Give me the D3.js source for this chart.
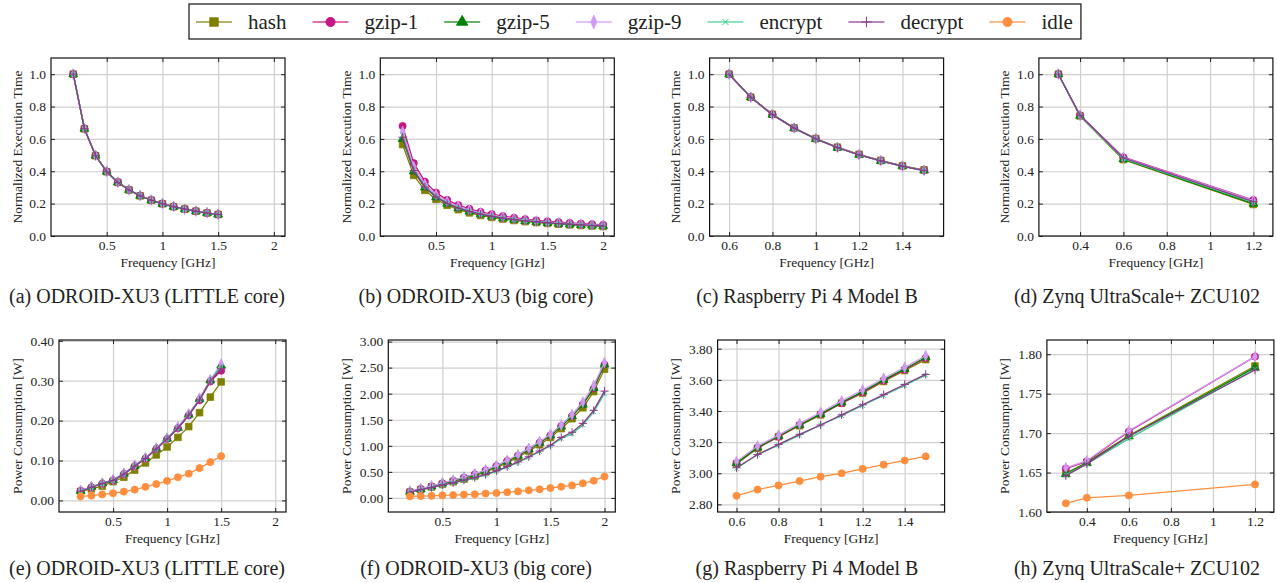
<!DOCTYPE html>
<html>
<head>
<meta charset="utf-8">
<script src="https://cdn.jsdelivr.net/npm/d3@7"></script>
<style>
body{margin:0;background:#fff;}
text{font-family:"Liberation Serif","Times New Roman",serif;fill:#222;}
</style>
</head>
<body>
<svg id="chart" width="1277" height="583"></svg>
<script>
// workloads, legend order
const workloads = ['hash', 'gzip-1', 'gzip-5', 'gzip-9', 'encrypt', 'decrypt', 'idle'];
const colors = ['#808000', '#c71585', '#008000', '#d09af2', '#3ecf8e', '#8b3a8b', '#ff8f3f'];

// frequencies [GHz]
const freqLittle = [0.2, 0.3, 0.4, 0.5, 0.6, 0.7, 0.8, 0.9, 1.0, 1.1, 1.2, 1.3, 1.4, 1.5];
const freqBig = [0.2, 0.3, 0.4, 0.5, 0.6, 0.7, 0.8, 0.9, 1.0, 1.1, 1.2, 1.3, 1.4, 1.5, 1.6, 1.7, 1.8, 1.9, 2.0];
const freqPi = [0.6, 0.7, 0.8, 0.9, 1.0, 1.1, 1.2, 1.3, 1.4, 1.5];
const freqZynq = [0.3, 0.4, 0.6, 1.2];

// normalized execution time, one row per workload (no idle)
const timeLittle = [
  [1.0, 0.662, 0.496, 0.397, 0.331, 0.284, 0.248, 0.221, 0.199, 0.181, 0.166, 0.153, 0.142, 0.133],
  [1.0, 0.664, 0.498, 0.399, 0.333, 0.286, 0.250, 0.222, 0.200, 0.182, 0.167, 0.154, 0.143, 0.134],
  [1.0, 0.663, 0.497, 0.398, 0.332, 0.285, 0.249, 0.221, 0.199, 0.181, 0.166, 0.153, 0.143, 0.133],
  [1.0, 0.664, 0.497, 0.398, 0.332, 0.285, 0.249, 0.222, 0.200, 0.182, 0.166, 0.154, 0.143, 0.134],
  [1.0, 0.662, 0.496, 0.397, 0.331, 0.284, 0.248, 0.221, 0.199, 0.181, 0.166, 0.153, 0.142, 0.133],
  [1.0, 0.663, 0.496, 0.397, 0.331, 0.284, 0.248, 0.221, 0.199, 0.181, 0.166, 0.153, 0.142, 0.133]
];
const timeBig = [
  [0.565, 0.375, 0.282, 0.226, 0.190, 0.163, 0.143, 0.127, 0.115, 0.105, 0.096, 0.089, 0.083, 0.078, 0.073, 0.069, 0.065, 0.062, 0.059],
  [0.680, 0.450, 0.336, 0.268, 0.223, 0.191, 0.168, 0.149, 0.135, 0.123, 0.113, 0.104, 0.097, 0.091, 0.086, 0.081, 0.077, 0.073, 0.069],
  [0.600, 0.400, 0.300, 0.240, 0.200, 0.172, 0.151, 0.134, 0.121, 0.110, 0.101, 0.093, 0.087, 0.081, 0.076, 0.072, 0.068, 0.065, 0.062],
  [0.645, 0.428, 0.320, 0.256, 0.213, 0.183, 0.160, 0.142, 0.128, 0.117, 0.107, 0.099, 0.092, 0.086, 0.081, 0.077, 0.073, 0.069, 0.066],
  [0.620, 0.410, 0.306, 0.245, 0.204, 0.175, 0.153, 0.136, 0.123, 0.112, 0.103, 0.095, 0.088, 0.083, 0.078, 0.073, 0.069, 0.066, 0.063],
  [0.610, 0.405, 0.303, 0.242, 0.202, 0.173, 0.152, 0.135, 0.122, 0.111, 0.102, 0.094, 0.088, 0.082, 0.077, 0.073, 0.069, 0.065, 0.062]
];
const timePi = [
  [1.0, 0.858, 0.752, 0.668, 0.602, 0.549, 0.505, 0.467, 0.434, 0.409],
  [1.0, 0.857, 0.751, 0.667, 0.601, 0.547, 0.503, 0.465, 0.432, 0.406],
  [1.0, 0.857, 0.750, 0.667, 0.600, 0.546, 0.502, 0.464, 0.432, 0.405],
  [1.0, 0.857, 0.751, 0.667, 0.601, 0.547, 0.503, 0.465, 0.432, 0.406],
  [1.0, 0.857, 0.750, 0.667, 0.600, 0.546, 0.502, 0.464, 0.431, 0.404],
  [1.0, 0.857, 0.750, 0.667, 0.600, 0.546, 0.502, 0.464, 0.431, 0.404]
];
const timeZynq = [
  [1.0, 0.742, 0.472, 0.195],
  [1.0, 0.746, 0.487, 0.222],
  [1.0, 0.743, 0.475, 0.200],
  [1.0, 0.745, 0.485, 0.218],
  [1.0, 0.744, 0.478, 0.207],
  [1.0, 0.745, 0.482, 0.212]
];

// power consumption [W], one row per workload (with idle)
const powerLittle = [
  [0.022, 0.029, 0.036, 0.047, 0.058, 0.076, 0.094, 0.114, 0.134, 0.158, 0.185, 0.220, 0.259, 0.297],
  [0.024, 0.033, 0.042, 0.050, 0.066, 0.086, 0.105, 0.129, 0.154, 0.181, 0.213, 0.251, 0.298, 0.325],
  [0.024, 0.034, 0.043, 0.051, 0.067, 0.087, 0.106, 0.130, 0.155, 0.182, 0.215, 0.254, 0.301, 0.338],
  [0.025, 0.034, 0.043, 0.052, 0.068, 0.088, 0.107, 0.131, 0.156, 0.184, 0.217, 0.256, 0.302, 0.342],
  [0.023, 0.033, 0.042, 0.050, 0.066, 0.087, 0.105, 0.129, 0.155, 0.182, 0.214, 0.253, 0.300, 0.335],
  [0.023, 0.033, 0.042, 0.050, 0.066, 0.086, 0.105, 0.129, 0.154, 0.181, 0.214, 0.252, 0.299, 0.330],
  [0.010, 0.012, 0.015, 0.018, 0.022, 0.027, 0.034, 0.041, 0.049, 0.058, 0.067, 0.081, 0.096, 0.111]
];
const powerBig = [
  [0.11, 0.16, 0.21, 0.26, 0.31, 0.36, 0.42, 0.50, 0.58, 0.67, 0.78, 0.90, 1.02, 1.16, 1.33, 1.52, 1.73, 2.04, 2.47],
  [0.12, 0.17, 0.22, 0.28, 0.33, 0.39, 0.45, 0.53, 0.61, 0.71, 0.81, 0.93, 1.06, 1.20, 1.38, 1.57, 1.80, 2.10, 2.56],
  [0.12, 0.17, 0.22, 0.28, 0.33, 0.39, 0.45, 0.52, 0.61, 0.70, 0.81, 0.93, 1.06, 1.20, 1.37, 1.57, 1.79, 2.11, 2.56],
  [0.13, 0.18, 0.23, 0.29, 0.34, 0.40, 0.46, 0.54, 0.62, 0.72, 0.83, 0.95, 1.08, 1.22, 1.40, 1.60, 1.84, 2.16, 2.60],
  [0.11, 0.16, 0.20, 0.25, 0.29, 0.33, 0.38, 0.44, 0.51, 0.59, 0.68, 0.78, 0.89, 1.00, 1.14, 1.23, 1.40, 1.65, 2.00],
  [0.11, 0.16, 0.20, 0.25, 0.29, 0.34, 0.39, 0.45, 0.52, 0.60, 0.69, 0.79, 0.90, 1.01, 1.16, 1.26, 1.43, 1.68, 2.05],
  [0.03, 0.035, 0.04, 0.05, 0.055, 0.065, 0.07, 0.085, 0.095, 0.11, 0.125, 0.145, 0.165, 0.19, 0.215, 0.24, 0.28, 0.33, 0.41]
];
const powerPi = [
  [3.060, 3.160, 3.235, 3.305, 3.375, 3.450, 3.515, 3.590, 3.660, 3.730],
  [3.065, 3.165, 3.235, 3.310, 3.380, 3.450, 3.520, 3.595, 3.665, 3.740],
  [3.065, 3.165, 3.240, 3.310, 3.380, 3.455, 3.525, 3.600, 3.670, 3.745],
  [3.075, 3.175, 3.245, 3.320, 3.390, 3.465, 3.535, 3.610, 3.680, 3.755],
  [3.030, 3.120, 3.180, 3.245, 3.310, 3.370, 3.435, 3.500, 3.565, 3.630],
  [3.035, 3.120, 3.185, 3.250, 3.310, 3.375, 3.440, 3.505, 3.570, 3.635],
  [2.855, 2.895, 2.922, 2.950, 2.978, 3.000, 3.028, 3.055, 3.082, 3.108]
];
const powerZynq = [
  [1.649, 1.663, 1.697, 1.785],
  [1.655, 1.664, 1.702, 1.797],
  [1.648, 1.662, 1.696, 1.783],
  [1.656, 1.665, 1.703, 1.797],
  [1.647, 1.661, 1.693, 1.781],
  [1.646, 1.661, 1.696, 1.780],
  [1.611, 1.618, 1.621, 1.635]
];

// tick labels
const xTicksOdroid = [0.5, 1, 1.5, 2];
const xTicksPi = [0.6, 0.8, 1, 1.2, 1.4];
const xTicksZynq = [0.4, 0.6, 0.8, 1, 1.2];
const yTicksTime = [0, 0.2, 0.4, 0.6, 0.8, 1.0];
const yTicksLittle = [0, 0.1, 0.2, 0.3, 0.4];
const yTicksBig = [0, 0.5, 1, 1.5, 2, 2.5, 3];
const yTicksPi = [2.8, 3.0, 3.2, 3.4, 3.6, 3.8];
const yTicksZynq = [1.60, 1.65, 1.70, 1.75, 1.80];

const captions = [
  '(a) ODROID-XU3 (LITTLE core)', '(b) ODROID-XU3 (big core)', '(c) Raspberry Pi 4 Model B', '(d) Zynq UltraScale+ ZCU102',
  '(e) ODROID-XU3 (LITTLE core)', '(f) ODROID-XU3 (big core)', '(g) Raspberry Pi 4 Model B', '(h) Zynq UltraScale+ ZCU102'
];

const svg = d3.select('#chart');
const serif = '"Liberation Serif", "Times New Roman", serif';

// marker shapes per workload
function marker(sel, i, scale) {
  const s = scale || 1;
  const c = colors[i];
  let p;
  if (i === 0) p = sel.append('path').attr('d', d3.symbol(d3.symbolSquare, 44 * s * s)());
  else if (i === 1 || i === 6) p = sel.append('path').attr('d', d3.symbol(d3.symbolCircle, 40 * s * s)());
  else if (i === 2) p = sel.append('path').attr('d', d3.symbol(d3.symbolTriangle, 34 * s * s)());
  else if (i === 3) p = sel.append('path').attr('d', d3.symbol(d3.symbolDiamond, 34 * s * s)()).attr('transform', 'scale(0.75,1)');
  else if (i === 4) p = sel.append('path').attr('d', d3.symbol(d3.symbolTimes || d3.symbolX, 16 * s * s)());
  else p = sel.append('path').attr('d', d3.symbol(d3.symbolPlus, 24 * s * s)());
  if (i === 4 || i === 5) p.attr('fill', 'none').attr('stroke', c).attr('stroke-width', 1);
  else p.attr('fill', c).attr('stroke', c).attr('stroke-width', 0.8);
}

function drawPanel(cfg) {
  const g = svg.append('g').attr('transform', `translate(${cfg.left},${cfg.top})`);
  const w = cfg.width, h = cfg.height;
  const x = d3.scaleLinear().domain(cfg.xDomain).range([0, w]);
  const y = d3.scaleLinear().domain(cfg.yDomain).range([h, 0]);

  // grid
  g.append('g').attr('transform', `translate(0,${h})`)
    .call(d3.axisBottom(x).tickValues(cfg.xTicks).tickSize(-h).tickFormat(''))
    .call(a => a.select('.domain').remove())
    .selectAll('line').attr('stroke', '#cfcfcf').attr('stroke-width', 1.2);
  g.append('g')
    .call(d3.axisLeft(y).tickValues(cfg.yTicks).tickSize(-w).tickFormat(''))
    .call(a => a.select('.domain').remove())
    .selectAll('line').attr('stroke', '#cfcfcf').attr('stroke-width', 1.2);

  // series
  const line = d3.line().x((d, i) => x(cfg.freq[i])).y(d => y(d));
  cfg.series.forEach((vals, k) => {
    g.append('path').datum(vals)
      .attr('fill', 'none').attr('stroke', colors[k]).attr('stroke-width', 1.3)
      .attr('d', line);
    vals.forEach((v, j) => {
      const m = g.append('g').attr('transform', `translate(${x(cfg.freq[j])},${y(v)})`);
      marker(m, k, 1);
    });
  });

  // axes, ticks inward on all four sides
  const fx = d3.format('~g');
  const xb = g.append('g').attr('transform', `translate(0,${h})`)
    .call(d3.axisBottom(x).tickValues(cfg.xTicks).tickSizeInner(-4).tickSizeOuter(0).tickPadding(4).tickFormat(fx));
  const yl = g.append('g')
    .call(d3.axisLeft(y).tickValues(cfg.yTicks).tickSizeInner(-4).tickSizeOuter(0).tickPadding(5).tickFormat(d3.format(cfg.yFmt)));
  g.append('g').call(d3.axisTop(x).tickValues(cfg.xTicks).tickSizeInner(-4).tickSizeOuter(0).tickFormat(''));
  g.append('g').attr('transform', `translate(${w},0)`)
    .call(d3.axisRight(y).tickValues(cfg.yTicks).tickSizeInner(-4).tickSizeOuter(0).tickFormat(''));
  g.selectAll('.domain').remove();
  g.selectAll('.tick line').filter(function () { return !this.getAttribute('stroke') || this.getAttribute('stroke') === 'currentColor'; })
    .attr('stroke', '#222').attr('stroke-width', 1);
  [xb, yl].forEach(a => a.selectAll('text').style('font-size', '13.5px').attr('fill', '#333')
    .style('font-family', serif));

  g.append('rect').attr('width', w).attr('height', h)
    .attr('fill', 'none').attr('stroke', '#111').attr('stroke-width', 1.2);

  g.append('text').attr('x', w / 2).attr('y', h + 26).attr('text-anchor', 'middle')
    .attr('dominant-baseline', 'central').style('font-size', '13.5px').style('font-family', serif).text('Frequency [GHz]');
  g.append('text').attr('transform', `translate(${-cfg.ylabOff},${h / 2}) rotate(-90)`)
    .attr('text-anchor', 'middle').attr('dominant-baseline', 'central')
    .style('font-size', '13.5px').style('font-family', serif).text(cfg.ylabel);

  svg.append('text').attr('x', cfg.capX).attr('y', cfg.capY).attr('text-anchor', 'middle')
    .attr('dominant-baseline', 'central').style('font-size', '20px').style('font-family', serif)
    .attr('fill', '#111').text(cfg.caption);
}

const colStep = 329.3;
const capXs = [147, 476, 807, 1137];
const xDomOdroid = [0, 2.1], xDomPi = [0.51, 1.59], xDomZynq = [0.21, 1.29];

const topRow = [
  {freq: freqLittle, series: timeLittle, xDomain: xDomOdroid, xTicks: xTicksOdroid},
  {freq: freqBig, series: timeBig, xDomain: xDomOdroid, xTicks: xTicksOdroid},
  {freq: freqPi, series: timePi, xDomain: xDomPi, xTicks: xTicksPi},
  {freq: freqZynq, series: timeZynq, xDomain: xDomZynq, xTicks: xTicksZynq}
];
topRow.forEach((p, i) => drawPanel(Object.assign(p, {
  left: 51 + i * colStep, top: 58, width: 234, height: 178,
  yDomain: [0, 1.1], yTicks: yTicksTime, yFmt: '.1f',
  ylabel: 'Normalized Execution Time', ylabOff: 34,
  caption: captions[i], capX: capXs[i], capY: 296
})));

const bottomRow = [
  {freq: freqLittle, series: powerLittle, xDomain: xDomOdroid, xTicks: xTicksOdroid, yDomain: [-0.029, 0.402], yTicks: yTicksLittle},
  {freq: freqBig, series: powerBig, xDomain: xDomOdroid, xTicks: xTicksOdroid, yDomain: [-0.27, 3.03], yTicks: yTicksBig},
  {freq: freqPi, series: powerPi, xDomain: xDomPi, xTicks: xTicksPi, yDomain: [2.751, 3.856], yTicks: yTicksPi},
  {freq: freqZynq, series: powerZynq, xDomain: xDomZynq, xTicks: xTicksZynq, yDomain: [1.60, 1.818], yTicks: yTicksZynq}
];
bottomRow.forEach((p, i) => drawPanel(Object.assign(p, {
  left: 59 + i * colStep, top: 340, width: 227, height: 172,
  yFmt: '.2f', ylabel: 'Power Consumption [W]', ylabOff: 42,
  caption: captions[i + 4], capX: capXs[i], capY: 568
})));

// legend
const leg = svg.append('g');
const legBox = leg.append('rect').attr('x', 189).attr('y', 4).attr('width', 900).attr('height', 35)
  .attr('fill', '#fff').attr('stroke', '#111').attr('stroke-width', 1.2);
let cx = 196;
workloads.forEach((name, i) => {
  const item = leg.append('g').attr('transform', `translate(${cx},22)`);
  item.append('line').attr('x1', 0).attr('x2', 36).attr('stroke', colors[i])
    .attr('stroke-width', 1.5).attr('stroke-opacity', 0.8);
  marker(item.append('g').attr('transform', 'translate(18,0)'), i, 1.3);
  const t = item.append('text').attr('x', 52).attr('y', 0).attr('dominant-baseline', 'central')
    .style('font-size', '21px').style('font-family', serif).attr('fill', '#111').text(name);
  cx += 52 + t.node().getComputedTextLength() + 26;
});
legBox.attr('width', cx - 26 + 8 - 189);
</script>
</body>
</html>
